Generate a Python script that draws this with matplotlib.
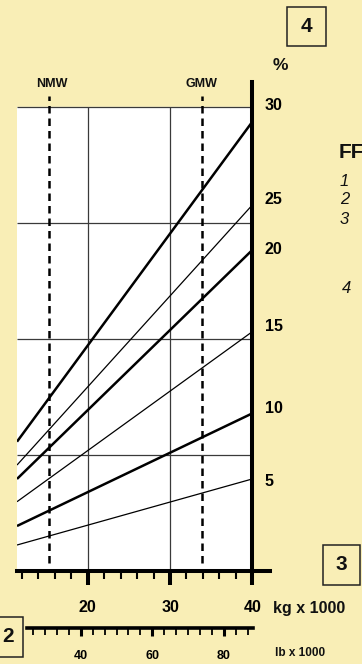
import numpy as np
import matplotlib
matplotlib.use("Agg")
import matplotlib.pyplot as plt
from matplotlib.ticker import MultipleLocator, FixedLocator
from matplotlib.patches import Rectangle

plt.rcParams['font.family'] = ['Liberation Sans', 'DejaVu Sans']

# weight (kg x 1000) at the two ends of each line
weight_ends = [11.4, 40]
# percent values read at the two ends, top line first
pct_lines = [
    [8.36, 29.04],
    [6.85, 23.66],
    [5.95, 20.75],
    [4.48, 15.47],
    [2.91, 10.19],
    [1.68, 5.95],
]
thick_line = [True, False, True, False, True, False]

# marker weights for the dashed verticals
nmw = 15.3
gmw = 33.9

pct_labels = ['5', '10', '15', '20', '25', '30']
pct_label_pos = [5.9, 10.6, 15.9, 20.9, 24.1, 30.2]
grid_pct = [7.5, 15, 22.5, 30]
grid_kg = [20, 30]
kg_labels = [20, 30, 40]
lb_labels = [40, 60, 80]

W, H = 362, 664
bg = '#f9eeb6'
fig = plt.figure(figsize=(W / 100, H / 100), dpi=100, facecolor=bg)


def fx(px):
    return px / W


def fy(py):
    return 1 - py / H


# main axes: 17..270 px wide, 82..571 px tall
ax = fig.add_axes([fx(17), fy(571), fx(270) - fx(17), fy(82) - fy(571)])
ax.set_facecolor('none')
ax.set_xlim(11.4, 42.15)
ax.set_ylim(0, 31.61)

ax.fill_between([weight_ends[0], 40], 0, 30, color='white', zorder=0)
ax.hlines(grid_pct, weight_ends[0], 40, color='#3a3a3a', lw=0.9, zorder=1)
ax.vlines(grid_kg, 0, 30, color='#3a3a3a', lw=0.9, zorder=1)

for vals, thick in zip(pct_lines, thick_line):
    ax.plot(weight_ends, vals, color='black', lw=1.8 if thick else 0.9,
            solid_capstyle='butt', zorder=3)

for xv in (nmw, gmw):
    ax.plot([xv, xv], [0.5, 30.7], color='black', lw=1.8,
            linestyle=(0, (3, 2)), clip_on=False, zorder=4)

for s in ('top', 'left'):
    ax.spines[s].set_visible(False)
ax.spines['bottom'].set_linewidth(2.9)
ax.spines['right'].set_linewidth(2.9)
ax.spines['right'].set_position(('data', 40))

ax.xaxis.set_major_locator(FixedLocator(kg_labels))
ax.xaxis.set_minor_locator(FixedLocator(np.arange(12, 40, 2)))
ax.set_xticklabels([str(v) for v in kg_labels])
ax.tick_params(axis='x', which='major', length=10, width=2.9, pad=11,
               labelsize=11.5)
ax.tick_params(axis='x', which='minor', length=6, width=1.5)
for t in ax.get_xticklabels():
    t.set_fontweight('bold')

ax.yaxis.tick_right()
ax.set_yticks(pct_label_pos)
ax.set_yticklabels(pct_labels, fontweight='bold')
ax.tick_params(axis='y', length=0, pad=9, labelsize=11.5)

# pound scale below
axl = fig.add_axes([fx(27), fy(628), fx(253) - fx(27), 0.001])
axl.set_facecolor('none')
axl.set_xlim(24.95, 88.17)
axl.set_yticks([])
for s in ('top', 'left', 'right'):
    axl.spines[s].set_visible(False)
axl.spines['bottom'].set_linewidth(2.6)
axl.xaxis.set_major_locator(FixedLocator(lb_labels))
axl.xaxis.set_minor_locator(MultipleLocator(10 / 3))
axl.set_xticklabels([str(v) for v in lb_labels], fontweight='bold')
axl.tick_params(axis='x', which='major', length=6, width=2.2, pad=10,
                labelsize=9)
axl.tick_params(axis='x', which='minor', length=5, width=1.3)

bold = dict(fontweight='bold', color='#111111')
fig.text(fx(52), fy(84), 'NMW', ha='center', va='center', fontsize=9, **bold)
fig.text(fx(201), fy(84), 'GMW', ha='center', va='center', fontsize=9, **bold)
fig.text(fx(280), fy(66), '%', ha='center', va='center', fontsize=12.5, **bold)
fig.text(fx(273), fy(608), 'kg x 1000', ha='left', va='center', fontsize=11.5, **bold)
fig.text(fx(275), fy(653), 'lb x 1000', ha='left', va='center', fontsize=8.5, **bold)

fig.text(fx(339), fy(153), 'FF', ha='left', va='center', fontsize=15, **bold)
for num, py in zip(['1', '2', '3'], [181, 200, 219]):
    fig.text(fx(340), fy(py), num, ha='left', va='center', fontsize=12,
             style='italic', color='#111111')
fig.text(fx(342), fy(288), '4', ha='left', va='center', fontsize=12,
         style='italic', color='#111111')

# boxed numbers
for (x0, y0, x1, y1), num, (tx, ty) in [
    ((287, 7, 326, 46), '4', (306.5, 27)),
    ((323, 545, 360, 585), '3', (341.5, 565)),
    ((-5, 617, 23, 657), '2', (8, 637)),
]:
    fig.patches.append(Rectangle((fx(x0), fy(y1)), fx(x1) - fx(x0), fy(y0) - fy(y1),
                                 transform=fig.transFigure, fill=False,
                                 edgecolor='#222222', lw=1.1))
    fig.text(fx(tx), fy(ty), num, ha='center', va='center', fontsize=15, **bold)

fig.savefig('out.png', dpi=100, facecolor=bg)
